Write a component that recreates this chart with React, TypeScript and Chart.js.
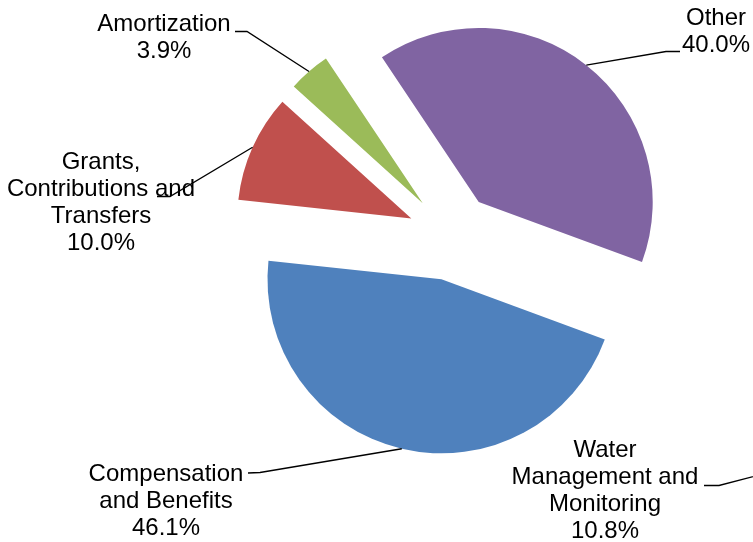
import React, { useEffect, useRef } from "react";
import { Chart, registerables } from "chart.js";

Chart.register(...registerables);

// ---- data ----
const categories = [
  "Compensation and Benefits",
  "Water Management and Monitoring",
  "Grants, Contributions and Transfers",
  "Amortization",
  "Other",
];
// slice sizes as drawn in the reference (the Water Management slice is not visible)
const sliceValues = [46.1, 0, 10.0, 3.9, 40.0];
// percentages printed in the labels
const percentLabels = ["46.1%", "10.8%", "10.0%", "3.9%", "40.0%"];
const colors = ["#4F81BD", "#4BACC6", "#C0504D", "#9BBB59", "#8064A2"];

// label text lines (category wrapped as in the reference)
const labelLines = [
  ["Compensation", "and Benefits"],
  ["Water", "Management and", "Monitoring"],
  ["Grants,", "Contributions and", "Transfers"],
  ["Amortization"],
  ["Other"],
];

// ---- layout (positions/styles) ----
const EXPLODE = 44;
const RADIUS = 174;
const LINE_H = 27;
const FONT = '24px "Liberation Sans", Arial, sans-serif';
// label centre x and first baseline y
const labelPos = [
  { x: 166, y: 481 },
  { x: 605, y: 457 },
  { x: 101, y: 169 },
  { x: 164, y: 31 },
  { x: 716, y: 25 },
];
// leader line: text-side points (then goes to slice edge)
const leaderStart = [
  [[248, 473], [260, 472.5]],
  [[704, 485.5], [719, 485.5]],
  [[157, 196.5], [170, 196.5]],
  [[235, 31.5], [247, 31.5]],
  [[680, 51.5], [666, 51.5]],
];
// leader end for slices that are not drawn (off the picture)
const hiddenLeaderEnd: [number, number] = [820, 459];

const explodePlugin = {
  id: "explodeSlices",
  afterDatasetsUpdate(chart: any) {
    const meta = chart.getDatasetMeta(0);
    meta.data.forEach((arc: any) => {
      const mid = (arc.startAngle + arc.endAngle) / 2;
      arc.x += Math.cos(mid) * EXPLODE;
      arc.y += Math.sin(mid) * EXPLODE;
    });
  },
};

const labelPlugin = {
  id: "pieLabels",
  afterDatasetsDraw(chart: any) {
    const ctx = chart.ctx;
    const meta = chart.getDatasetMeta(0);
    ctx.save();
    ctx.strokeStyle = "#000";
    ctx.lineWidth = 1.3;
    meta.data.forEach((arc: any, i: number) => {
      const pts = leaderStart[i];
      let end: [number, number];
      if (sliceValues[i] > 0) {
        const mid = (arc.startAngle + arc.endAngle) / 2;
        end = [arc.x + Math.cos(mid) * arc.outerRadius, arc.y + Math.sin(mid) * arc.outerRadius];
      } else {
        end = hiddenLeaderEnd;
      }
      ctx.beginPath();
      ctx.moveTo(pts[0][0], pts[0][1]);
      ctx.lineTo(pts[1][0], pts[1][1]);
      ctx.lineTo(end[0], end[1]);
      ctx.stroke();
    });
    ctx.fillStyle = "#000";
    ctx.font = FONT;
    ctx.textAlign = "center";
    ctx.textBaseline = "alphabetic";
    categories.forEach((_, i) => {
      const lines = [...labelLines[i], percentLabels[i]];
      lines.forEach((t, j) => {
        ctx.fillText(t, labelPos[i].x, labelPos[i].y + j * LINE_H);
      });
    });
    ctx.restore();
  },
};

export default function App() {
  const ref = useRef<HTMLCanvasElement>(null);
  useEffect(() => {
    if (!ref.current) return;
    const chart = new Chart(ref.current, {
      type: "pie",
      data: {
        labels: categories,
        datasets: [
          {
            data: sliceValues,
            backgroundColor: colors,
            borderWidth: 0,
          },
        ],
      },
      options: {
        responsive: false,
        animation: false,
        events: [],
        rotation: 110.2,
        radius: RADIUS,
        layout: { padding: { left: 150, right: 0, top: 0, bottom: 69 } },
        plugins: {
          legend: { display: false },
          tooltip: { enabled: false },
        },
      },
      plugins: [explodePlugin, labelPlugin],
    });
    return () => chart.destroy();
  }, []);
  return (
    <div style={{ position: "fixed", left: 0, top: 0, width: 753, height: 542, background: "#fff" }}>
      <canvas ref={ref} width={753} height={542} style={{ width: 753, height: 542, display: "block" }} />
    </div>
  );
}
